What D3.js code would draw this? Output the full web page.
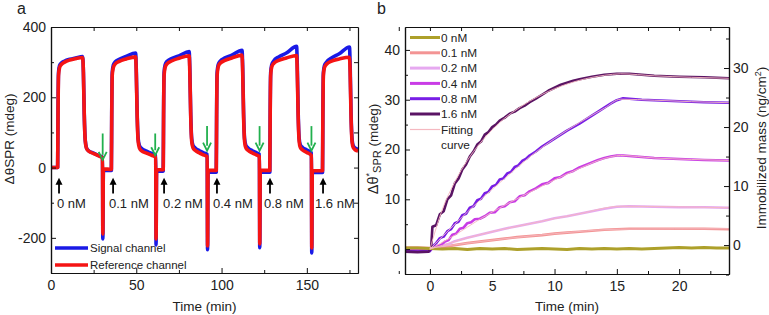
<!DOCTYPE html>
<html>
<head>
<meta charset="utf-8">
<script src="https://cdn.jsdelivr.net/npm/d3@7"></script>
<style>
  body { margin: 0; background: #fff; }
  svg { font-family: Arial, "Liberation Sans", sans-serif; font-weight: normal; }
</style>
</head>
<body>
<div id="chart"></div>
<script>
// ---------- panel a: time (min), delta theta (mdeg) ----------
const refData = [
  [0, 0], [3.9, 0], [4.1, 140], [4.4, 262], [5.0, 284], [6.0, 293], [8, 300], [11, 306], [14.5, 310], [18.6, 313],
  [19.0, 270], [19.5, 150], [20.1, 75], [20.8, 55], [22, 47], [25, 40], [28, 33], [30.2, 28],
  [30.4, -189], [30.7, -4], [35.4, -5],
  [35.6, 140], [35.9, 262], [36.5, 284], [37.5, 294], [40, 302], [44, 309], [49.6, 315],
  [50.0, 270], [50.5, 150], [51.1, 75], [51.8, 56], [53, 48], [56, 41], [59, 35], [61.4, 30],
  [61.6, -203], [61.9, -6], [65.8, -6],
  [66.0, 140], [66.3, 262], [66.9, 285], [68, 295], [71, 304], [75, 311], [81.0, 318],
  [81.4, 270], [81.9, 150], [82.5, 75], [83.2, 57], [84.5, 49], [87, 42], [89.5, 36], [91.6, 31],
  [91.8, -223], [92.1, -8], [96.9, -8],
  [97.1, 140], [97.4, 262], [98.0, 286], [99, 296], [102, 305], [106, 312], [112.0, 320],
  [112.4, 270], [112.9, 150], [113.5, 75], [114.2, 57], [115.5, 49], [118, 42], [120.5, 36], [122.2, 31],
  [122.4, -217], [122.7, -8], [128.3, -8],
  [128.5, 140], [128.8, 262], [129.4, 286], [130.5, 296], [133.5, 305], [138, 312], [144.0, 319],
  [144.4, 270], [144.9, 150], [145.5, 75], [146.2, 57], [147.5, 50], [150, 43], [152.7, 34],
  [152.9, -229], [153.2, -9], [159.2, -9],
  [159.4, 140], [159.7, 262], [160.3, 284], [161.5, 294], [164.5, 303], [169, 309], [175.0, 314],
  [175.4, 270], [175.9, 150], [176.5, 75], [177.2, 57], [178.5, 50], [180, 47]
]

const sigData = [
  [0, 0], [3.9, 0], [4.1, 150], [4.4, 270], [5.0, 290], [6.0, 297], [8, 303], [11, 308], [14.5, 312], [18.6, 316],
  [19.0, 272], [19.5, 152], [20.1, 77], [20.8, 56], [22, 48], [25, 41], [28, 34], [30.2, 29],
  [30.4, -203], [30.7, -8], [35.4, -8],
  [35.6, 150], [35.9, 270], [36.5, 291], [37.5, 300], [40, 308], [44, 316], [49.6, 326],
  [50.0, 280], [50.5, 158], [51.1, 82], [51.8, 63], [53, 55], [56, 47], [59, 40], [61.4, 35],
  [61.6, -220], [61.9, -10], [65.8, -10],
  [66.0, 150], [66.3, 270], [66.9, 292], [68, 302], [71, 311], [75, 318], [81.0, 330],
  [81.4, 282], [81.9, 158], [82.5, 82], [83.2, 64], [84.5, 56], [87, 48], [89.5, 42], [91.6, 37],
  [91.8, -234], [92.1, -13], [96.9, -13],
  [97.1, 150], [97.4, 270], [98.0, 292], [99, 302], [102, 312], [106, 320], [112.0, 334],
  [112.4, 285], [112.9, 160], [113.5, 82], [114.2, 64], [115.5, 56], [118, 48], [120.5, 42], [122.2, 38],
  [122.4, -228], [122.7, -13], [128.3, -13],
  [128.5, 150], [128.8, 270], [129.4, 292], [130.5, 303], [133.5, 315], [138, 326], [144.0, 345],
  [144.4, 292], [144.9, 162], [145.5, 83], [146.2, 64], [147.5, 57], [150, 50], [152.7, 42],
  [152.9, -243], [153.2, -14], [159.2, -14],
  [159.4, 150], [159.7, 270], [160.3, 290], [161.5, 300], [164.5, 312], [169, 324], [175.0, 343],
  [175.4, 290], [175.9, 160], [176.5, 82], [177.2, 62], [178.5, 55], [180, 52]
]

// injection arrows (black, up) and rinse arrows (green, down)
const injectTimes = [4.7, 36.4, 66.3, 97.3, 128.4, 159.5]
const injectLabelTimes = [3.5, 34, 65.7, 95, 124.9, 154.8]
const injectLabels = ['0 nM', '0.1 nM', '0.2 nM', '0.4 nM', '0.8 nM', '1.6 nM']
const rinseTimes = [30.3, 61.1, 91.5, 122.3, 152.7]
const rinseTail = [97, 97, 118, 118, 118]
const rinseTip = [22, 35, 48, 48, 48]

const aXTicks = [0, 50, 100, 150]
const aXMinor = [25, 75, 125, 175]
const aYTicks = [-200, 0, 200, 400]
const aYMinor = [-300, -100, 100, 300]

// ---------- panel b ----------
const concLabels = ['0 nM', '0.1 nM', '0.2 nM', '0.4 nM', '0.8 nM', '1.6 nM']
const concColors = ['#ada02a', '#f39494', '#e6a9f0', '#c93ce6', '#781ee6', '#5a1464']

const b00 = [[-2, 0.2], [-1, 0.2], [0, 0.1], [1, 0.0], [2, 0.1], [3, -0.1], [4, 0.1], [5, 0.0], [6, 0.1], [7, -0.1],
  [8, 0.0], [9, 0.1], [10, 0.0], [11, -0.1], [12, 0.1], [13, 0.0], [14, 0.1], [15, 0.0], [16, 0.1], [17, 0.0],
  [18, 0.1], [19, 0.2], [20, 0.3], [21, 0.2], [22, 0.3], [23, 0.2], [24, 0.2]]
const b01 = [[-2, 0.3], [-1, 0.3], [0, 0.2], [1, 0.4], [2, 0.8], [3, 1.2], [4, 1.5], [5, 1.8], [6, 2.1], [7, 2.4],
  [8, 2.6], [9, 2.8], [10, 3.1], [11, 3.3], [12, 3.5], [13, 3.7], [14, 3.9], [15, 4.0], [16, 4.1], [18, 4.1],
  [20, 4.1], [22, 4.1], [24, 4.0]]
const b02 = [[-2, 0.1], [-1, 0.0], [0, -0.1], [0.5, 0.2], [1, 0.7], [1.5, 1.0], [2, 1.6], [3, 2.3], [4, 2.9], [5, 3.5],
  [6, 4.1], [7, 4.6], [8, 5.1], [9, 5.6], [10, 6.2], [11, 6.6], [12, 7.1], [13, 7.6], [14, 8.1], [15, 8.5],
  [16, 8.6], [18, 8.5], [20, 8.4], [22, 8.4], [24, 8.3]]
const b04 = [[-2, 0.0], [-1, -0.2], [0, -0.3], [0.3, 0.4], [0.6, 0.6], [0.9, 0.8], [1.2, 1.5], [1.5, 1.8], [1.8, 2.9],
  [2.1, 3.1], [2.4, 4.1], [2.7, 4.3], [3.0, 5.2], [3.3, 5.4], [3.6, 6.0], [4.0, 6.1], [4.4, 6.6], [4.8, 7.3],
  [5.2, 7.4], [5.6, 8.4], [6.0, 8.6], [6.4, 9.4], [6.8, 9.6], [7.2, 10.6], [7.6, 10.8], [8.0, 11.6], [8.5, 12.2],
  [9.0, 13.0], [9.5, 13.3], [10.0, 14.2], [10.5, 14.5], [11.0, 15.3], [11.5, 15.7], [12.0, 16.4], [12.5, 16.9],
  [13.0, 17.4], [13.5, 17.9], [14.0, 18.3], [14.5, 18.6], [15.0, 18.8], [15.5, 18.8], [16, 18.7], [17, 18.5],
  [18, 18.3], [20, 18.1], [22, 17.9], [24, 17.8]]
const b08 = [[-2, -0.4], [-1, -0.5], [0, -0.4], [0.2, 0.5], [0.5, 1.2], [0.8, 2.2], [1.1, 2.5], [1.4, 3.6], [1.7, 4.0],
  [2.0, 5.2], [2.3, 5.5], [2.6, 6.8], [2.9, 7.1], [3.2, 8.3], [3.5, 8.6], [3.8, 9.8], [4.1, 10.1], [4.4, 11.2],
  [4.7, 11.5], [5.0, 12.6], [5.3, 12.9], [5.6, 14.0], [5.9, 14.2], [6.2, 15.2], [6.5, 15.5], [6.8, 16.5],
  [7.1, 16.8], [7.4, 17.7], [7.7, 18.1], [8.0, 18.8], [8.5, 19.6], [9.0, 20.6], [9.5, 21.4], [10.0, 22.2],
  [10.5, 23.0], [11, 23.8], [11.5, 24.5], [12, 25.2], [12.5, 26.0], [13, 26.8], [13.5, 27.6], [14, 28.4],
  [14.5, 29.2], [15, 29.9], [15.5, 30.3], [16, 30.2], [17, 30.0], [18, 29.9], [20, 29.7], [22, 29.5], [24, 29.4]]
const b16 = [[-2, -0.5], [-1, -0.6], [-0.1, -0.5], [0.1, 0.3], [0.2, 4.5], [0.5, 4.8], [0.8, 7.0], [1.1, 7.6],
  [1.4, 10.0], [1.7, 10.8], [2.0, 13.2], [2.3, 14.2], [2.6, 16.0], [2.9, 17.0], [3.2, 18.6], [3.5, 19.6],
  [3.8, 21.0], [4.1, 21.6], [4.4, 23.0], [4.7, 23.5], [5.0, 24.5], [5.3, 25.0], [5.6, 25.8], [6.0, 26.4],
  [6.4, 27.2], [6.8, 27.6], [7.2, 28.3], [7.6, 28.8], [8.0, 29.5], [8.5, 30.2], [9.0, 31.0], [9.5, 31.8],
  [10.0, 32.4], [10.5, 33.0], [11.0, 33.4], [11.5, 33.8], [12.0, 34.1], [13.0, 34.6], [14.0, 35.0], [15.0, 35.2],
  [16.0, 35.2], [17.0, 35.0], [18.0, 34.8], [20.0, 34.6], [22.0, 34.5], [24.0, 34.3]]
const bSeries = [b00, b01, b02, b04, b08, b16]

// fitting curves (0.1 .. 1.6 nM)
const fit01 = [[0, 0.2], [5, 1.8], [10, 3.1], [15.3, 4.0], [24, 4.1]]
const fit02 = [[0, 0], [4, 2.9], [8, 5.1], [12, 7.1], [15.3, 8.6], [24, 8.3]]
const fit04 = [[0, 0], [2, 2.8], [4, 6], [6, 8.8], [8, 11.4], [10, 13.9], [12, 16.2], [14, 18.2], [15.3, 18.8], [18, 18.3], [21, 18], [24, 17.8]]
const fit08 = [[0, 0], [2, 5], [4, 9.8], [6, 14.2], [8, 18.5], [10, 22.2], [12, 25.4], [14, 28.3], [15.3, 30.1], [18, 29.9], [21, 29.6], [24, 29.4]]
const fit16 = [[0, 0], [1, 8], [2, 13.5], [3, 17.8], [4, 21.2], [5, 24], [6, 26.3], [7, 28.1], [8, 29.7], [10, 32.2], [12, 33.9], [14, 34.9], [15.3, 35.2], [18, 34.8], [21, 34.5], [24, 34.3]]
const fitSeries = [fit01, fit02, fit04, fit08, fit16]

const bXTicks = [0, 5, 10, 15, 20]
const bXMinor = [-2.5, 2.5, 7.5, 12.5, 17.5, 22.5]
const bYTicks = [0, 10, 20, 30, 40]
const bYMinor = [-5, 5, 15, 25, 35]
const massTicks = [0, 10, 20, 30]
const massMinor = [-5, 5, 15, 25, 35]

const width = 769
const height = 315
const textColor = '#222'
const svg = d3.select('#chart').append('svg')
  .attr('width', width)
  .attr('height', height)

function frame(g, x, y, xt, xm, yt, ym, right) {
  const [x0, x1] = x.range()
  const [y0, y1] = y.range()
  const fmt = d => (d < 0 ? '-' : '') + Math.abs(d)
  g.append('g').attr('transform', `translate(0,${y0})`)
    .call(d3.axisBottom(x).tickValues(xm).tickSize(-3).tickSizeOuter(0).tickFormat(''))
  g.append('g').attr('transform', `translate(0,${y0})`)
    .call(d3.axisBottom(x).tickValues(xt).tickSize(-5).tickSizeOuter(0).tickPadding(7).tickFormat(fmt))
  g.append('g').attr('transform', `translate(0,${y1})`)
    .call(d3.axisTop(x).tickValues(xt.concat(xm)).tickSize(-4).tickSizeOuter(0).tickFormat(''))
  g.append('g').attr('transform', `translate(${x0},0)`)
    .call(d3.axisLeft(y).tickValues(ym).tickSize(-3).tickSizeOuter(0).tickFormat(''))
  g.append('g').attr('transform', `translate(${x0},0)`)
    .call(d3.axisLeft(y).tickValues(yt).tickSize(-5).tickSizeOuter(0).tickPadding(5).tickFormat(fmt))
  if (!right) {
    g.append('g').attr('transform', `translate(${x1},0)`)
      .call(d3.axisRight(y).tickValues(yt.concat(ym)).tickSize(-4).tickSizeOuter(0).tickFormat(''))
  }
  g.selectAll('.domain').attr('stroke', '#111').attr('stroke-width', 1.2)
  g.selectAll('.tick line').attr('stroke', '#111').attr('stroke-width', 1)
  g.selectAll('.tick text').attr('font-size', 14).attr('fill', textColor)
    .attr('font-family', 'Arial, "Liberation Sans", sans-serif')
}

// ================= panel a =================
const xa = d3.scaleLinear().domain([0, 180]).range([51, 358])
const ya = d3.scaleLinear().domain([-300, 400]).range([273, 27])
const ga = svg.append('g')

svg.append('defs').append('clipPath').attr('id', 'clipA')
  .append('rect').attr('x', 51).attr('y', 27).attr('width', 307).attr('height', 246)

const lineA = d3.line().x(d => xa(d[0])).y(d => ya(d[1])).curve(d3.curveMonotoneX)
const plotA = ga.append('g').attr('clip-path', 'url(#clipA)')
plotA.append('path').datum(sigData).attr('d', lineA)
  .attr('fill', 'none').attr('stroke', '#1a1ae6').attr('stroke-width', 3.6).attr('stroke-linejoin', 'round')
plotA.append('path').datum(refData).attr('d', lineA)
  .attr('fill', 'none').attr('stroke', '#f51414').attr('stroke-width', 3.6).attr('stroke-linejoin', 'round')

frame(ga, xa, ya, aXTicks, aXMinor, aYTicks, aYMinor, false)

// black injection arrows
injectTimes.forEach((t, i) => {
  const x = xa(t)
  const tip = ya(-29)
  const tail = ya(-74)
  ga.append('line').attr('x1', x).attr('x2', x).attr('y1', tail).attr('y2', tip + 5)
    .attr('stroke', '#000').attr('stroke-width', 1.8)
  ga.append('path').attr('d', `M${x - 3.5},${tip + 7}L${x},${tip}L${x + 3.5},${tip + 7}Z`).attr('fill', '#000')
  ga.append('text').attr('x', xa(injectLabelTimes[i])).attr('y', ya(-103)).attr('dy', '0.36em')
    .attr('font-size', 13).attr('fill', textColor).text(injectLabels[i])
})

// green rinse arrows
rinseTimes.forEach((t, i) => {
  const x = xa(t)
  const tip = ya(rinseTip[i])
  const tail = ya(rinseTail[i])
  ga.append('line').attr('x1', x).attr('x2', x).attr('y1', tail).attr('y2', tip - 5)
    .attr('stroke', '#22b04e').attr('stroke-width', 1.8)
  ga.append('path').attr('d', `M${x - 4},${tip - 8}L${x},${tip}L${x + 4},${tip - 8}`)
    .attr('fill', 'none').attr('stroke', '#22b04e').attr('stroke-width', 1.8)
})

// legend a
const legA = [['Signal channel', '#1a1ae6'], ['Reference channel', '#f51414']]
legA.forEach((d, i) => {
  const y = 248 + i * 17
  ga.append('line').attr('x1', 55).attr('x2', 88).attr('y1', y).attr('y2', y)
    .attr('stroke', d[1]).attr('stroke-width', 3.6)
  ga.append('text').attr('x', 90).attr('y', y).attr('dy', '0.35em')
    .attr('font-size', 11.5).attr('fill', textColor).text(d[0])
})

ga.append('text').attr('x', 204.5).attr('y', 311).attr('text-anchor', 'middle')
  .attr('font-size', 13.5).attr('fill', textColor).text('Time (min)')
ga.append('text').attr('transform', 'translate(14,139) rotate(-90)').attr('text-anchor', 'middle')
  .attr('font-size', 13.5).attr('fill', textColor).text('ΔθSPR (mdeg)')
ga.append('text').attr('x', 17).attr('y', 14).attr('font-size', 16).attr('fill', textColor).text('a')

// ================= panel b =================
const xb = d3.scaleLinear().domain([-2, 24]).range([405, 729])
const yb = d3.scaleLinear().domain([-5, 44.6]).range([274, 27])
const ym = d3.scaleLinear().domain([-4.9, 36.95]).range([274, 27])
const gb = svg.append('g')

svg.select('defs').append('clipPath').attr('id', 'clipB')
  .append('rect').attr('x', 405).attr('y', 27).attr('width', 324).attr('height', 247)

const lineB = d3.line().x(d => xb(d[0])).y(d => yb(d[1]))
const fitLine = d3.line().x(d => xb(d[0])).y(d => yb(d[1])).curve(d3.curveMonotoneX)
const plotB = gb.append('g').attr('clip-path', 'url(#clipB)')

const order = [1, 2, 3, 4, 5, 0]
order.forEach(i => {
  plotB.append('path').datum(bSeries[i]).attr('d', lineB)
    .attr('fill', 'none').attr('stroke', concColors[i])
    .attr('stroke-width', i === 0 ? 3 : 2.6).attr('stroke-linejoin', 'round')
})
fitSeries.forEach(s => {
  plotB.append('path').datum(s).attr('d', fitLine)
    .attr('fill', 'none').attr('stroke', '#f5b8c0').attr('stroke-width', 1).attr('opacity', 0.9)
})

frame(gb, xb, yb, bXTicks, bXMinor, bYTicks, bYMinor, true)

// right axis: immobilized mass
gb.append('g').attr('transform', 'translate(729,0)')
  .call(d3.axisRight(ym).tickValues(massMinor).tickSize(-3).tickSizeOuter(0).tickFormat(''))
gb.append('g').attr('transform', 'translate(729,0)')
  .call(d3.axisRight(ym).tickValues(massTicks).tickSize(-5).tickSizeOuter(0).tickPadding(4))
gb.selectAll('.domain').attr('stroke', '#111').attr('stroke-width', 1.2)
gb.selectAll('.tick line').attr('stroke', '#111')
gb.selectAll('.tick text').attr('font-size', 14).attr('fill', textColor)
  .attr('font-family', 'Arial, "Liberation Sans", sans-serif')

// legend b
concLabels.forEach((lab, i) => {
  const y = 37.5 + i * 15.3
  gb.append('line').attr('x1', 410).attr('x2', 440).attr('y1', y).attr('y2', y)
    .attr('stroke', concColors[i]).attr('stroke-width', 3)
  gb.append('text').attr('x', 441).attr('y', y).attr('dy', '0.35em')
    .attr('font-size', 11.8).attr('fill', textColor).text(lab)
})
gb.append('line').attr('x1', 410).attr('x2', 440).attr('y1', 129.5).attr('y2', 129.5)
  .attr('stroke', '#f5b8c0').attr('stroke-width', 1.2)
gb.append('text').attr('x', 441).attr('y', 129.5).attr('dy', '0.35em')
  .attr('font-size', 11.8).attr('fill', textColor).text('Fitting')
gb.append('text').attr('x', 441).attr('y', 145).attr('dy', '0.35em')
  .attr('font-size', 11.8).attr('fill', textColor).text('curve')

gb.append('text').attr('x', 567).attr('y', 311).attr('text-anchor', 'middle')
  .attr('font-size', 13.5).attr('fill', textColor).text('Time (min)')

const yl = gb.append('text').attr('transform', 'translate(378,149) rotate(-90)').attr('text-anchor', 'middle')
  .attr('font-size', 13.5).attr('fill', textColor)
yl.append('tspan').attr('font-size', 14.5).text('Δθ')
yl.append('tspan').attr('font-size', 9).attr('dy', -6).text('*')
yl.append('tspan').attr('font-size', 11).attr('dy', 9).text('SPR')
yl.append('tspan').attr('dy', -3).text(' (mdeg)')

gb.append('text').attr('transform', 'translate(766,148) rotate(-90)').attr('text-anchor', 'middle')
  .attr('font-size', 13.5).attr('fill', textColor)
  .call(t => {
    t.append('tspan').text('Immobilized mass (ng/cm')
    t.append('tspan').attr('font-size', 9).attr('dy', -5).text('2')
    t.append('tspan').attr('dy', 5).text(')')
  })
gb.append('text').attr('x', 377).attr('y', 14).attr('font-size', 16).attr('fill', textColor).text('b')
</script>
</body>
</html>
